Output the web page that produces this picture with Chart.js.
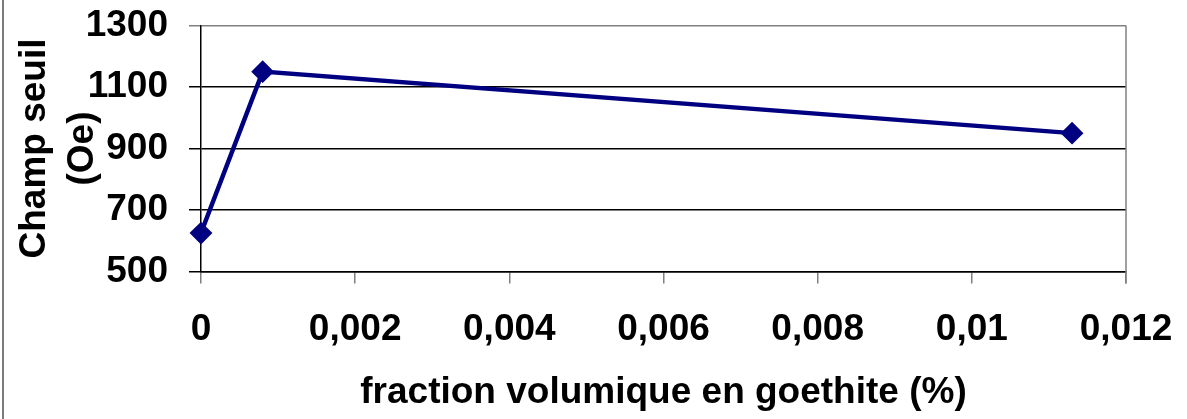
<!DOCTYPE html>
<html>
<head>
<meta charset="utf-8">
<script src="https://cdn.jsdelivr.net/npm/chart.js@4/dist/chart.umd.min.js"></script>
<style>
  html, body { margin: 0; padding: 0; background: #fff; }
  #wrap { position: relative; width: 1187px; height: 419px; }
  #frame { position: absolute; left: 2px; top: 0; width: 2px; height: 419px; background: #7a7a7a; }
</style>
</head>
<body>
<div id="wrap">
  <canvas id="chart" width="1187" height="419"></canvas>
  <div id="frame"></div>
</div>
<script>
// goethite volume fraction vs threshold field
let fractions = [0, 0.0008, 0.0113];
let champSeuil = [625, 1150, 950];
let xTickValues = [0, 0.002, 0.004, 0.006, 0.008, 0.01, 0.012];
let yTickValues = [500, 700, 900, 1100, 1300];

let font = { family: 'Liberation Sans, Arial, sans-serif', size: 37, weight: 'bold' };

let plotBorder = {
    id: 'plotBorder',
    afterDraw(chart) {
        let a = chart.chartArea;
        let c = chart.ctx;
        c.save();
        c.strokeStyle = '#808080';
        c.lineWidth = 1.5;
        c.beginPath();
        c.moveTo(a.right, a.top);
        c.lineTo(a.right, a.bottom + 12);
        c.stroke();
        c.restore();
    }
};

let lineCtx = document.getElementById('chart').getContext('2d');
let lineChart = new Chart(lineCtx, {
    type: 'line',
    data: {
        datasets: [{
            data: fractions.map((f, i) => ({ x: f, y: champSeuil[i] })),
            borderColor: '#000080',
            backgroundColor: '#000080',
            borderWidth: 4.5,
            tension: 0,
            clip: false,
            pointStyle: 'rectRot',
            pointRadius: 10,
            pointBorderWidth: 2,
            pointBackgroundColor: '#000080',
            pointBorderColor: '#000080',
        }]
    },
    options: {
        responsive: false,
        animation: false,
        events: [],
        layout: { padding: { top: 25.5, right: 61, left: 0, bottom: 0 } },
        plugins: { legend: { display: false }, tooltip: { enabled: false } },
        scales: {
            x: {
                type: 'linear',
                min: 0,
                max: 0.012,
                afterBuildTicks: s => { s.ticks = xTickValues.map(v => ({ value: v })); },
                afterFit: s => { s.height = 147.5; s.paddingRight = 0; },
                grid: { drawOnChartArea: false, drawTicks: true, tickLength: 12, color: '#808080', lineWidth: 1.5 },
                border: { color: '#000', width: 1.5 },
                ticks: {
                    color: '#000',
                    font: font,
                    padding: 24,
                    maxRotation: 0,
                    callback: v => Number(v.toFixed(3)).toString().replace('.', ',')
                },
                title: {
                    display: true,
                    text: 'fraction volumique en goethite (%)',
                    color: '#000',
                    font: font,
                    padding: { top: 0, bottom: 4 }
                }
            },
            y: {
                min: 500,
                max: 1300,
                afterBuildTicks: s => { s.ticks = yTickValues.map(v => ({ value: v })); },
                afterFit: s => { s.width = 201; s.paddingTop = 0; s.paddingBottom = 0; },
                grid: {
                    drawTicks: true,
                    tickLength: 12,
                    lineWidth: 1.5,
                    color: c => c.tick && c.tick.value === 1300 ? '#808080' : '#000'
                },
                border: { color: '#000', width: 1.5 },
                ticks: { color: '#000', font: font, padding: 21, callback: v => String(v) },
                title: {
                    display: true,
                    text: ['Champ seuil', '(Oe)'],
                    color: '#000',
                    font: Object.assign({}, font, { lineHeight: 1.3 }),
                    padding: { top: 11, bottom: 0 }
                }
            }
        }
    },
    plugins: [plotBorder]
});
</script>
</body>
</html>
